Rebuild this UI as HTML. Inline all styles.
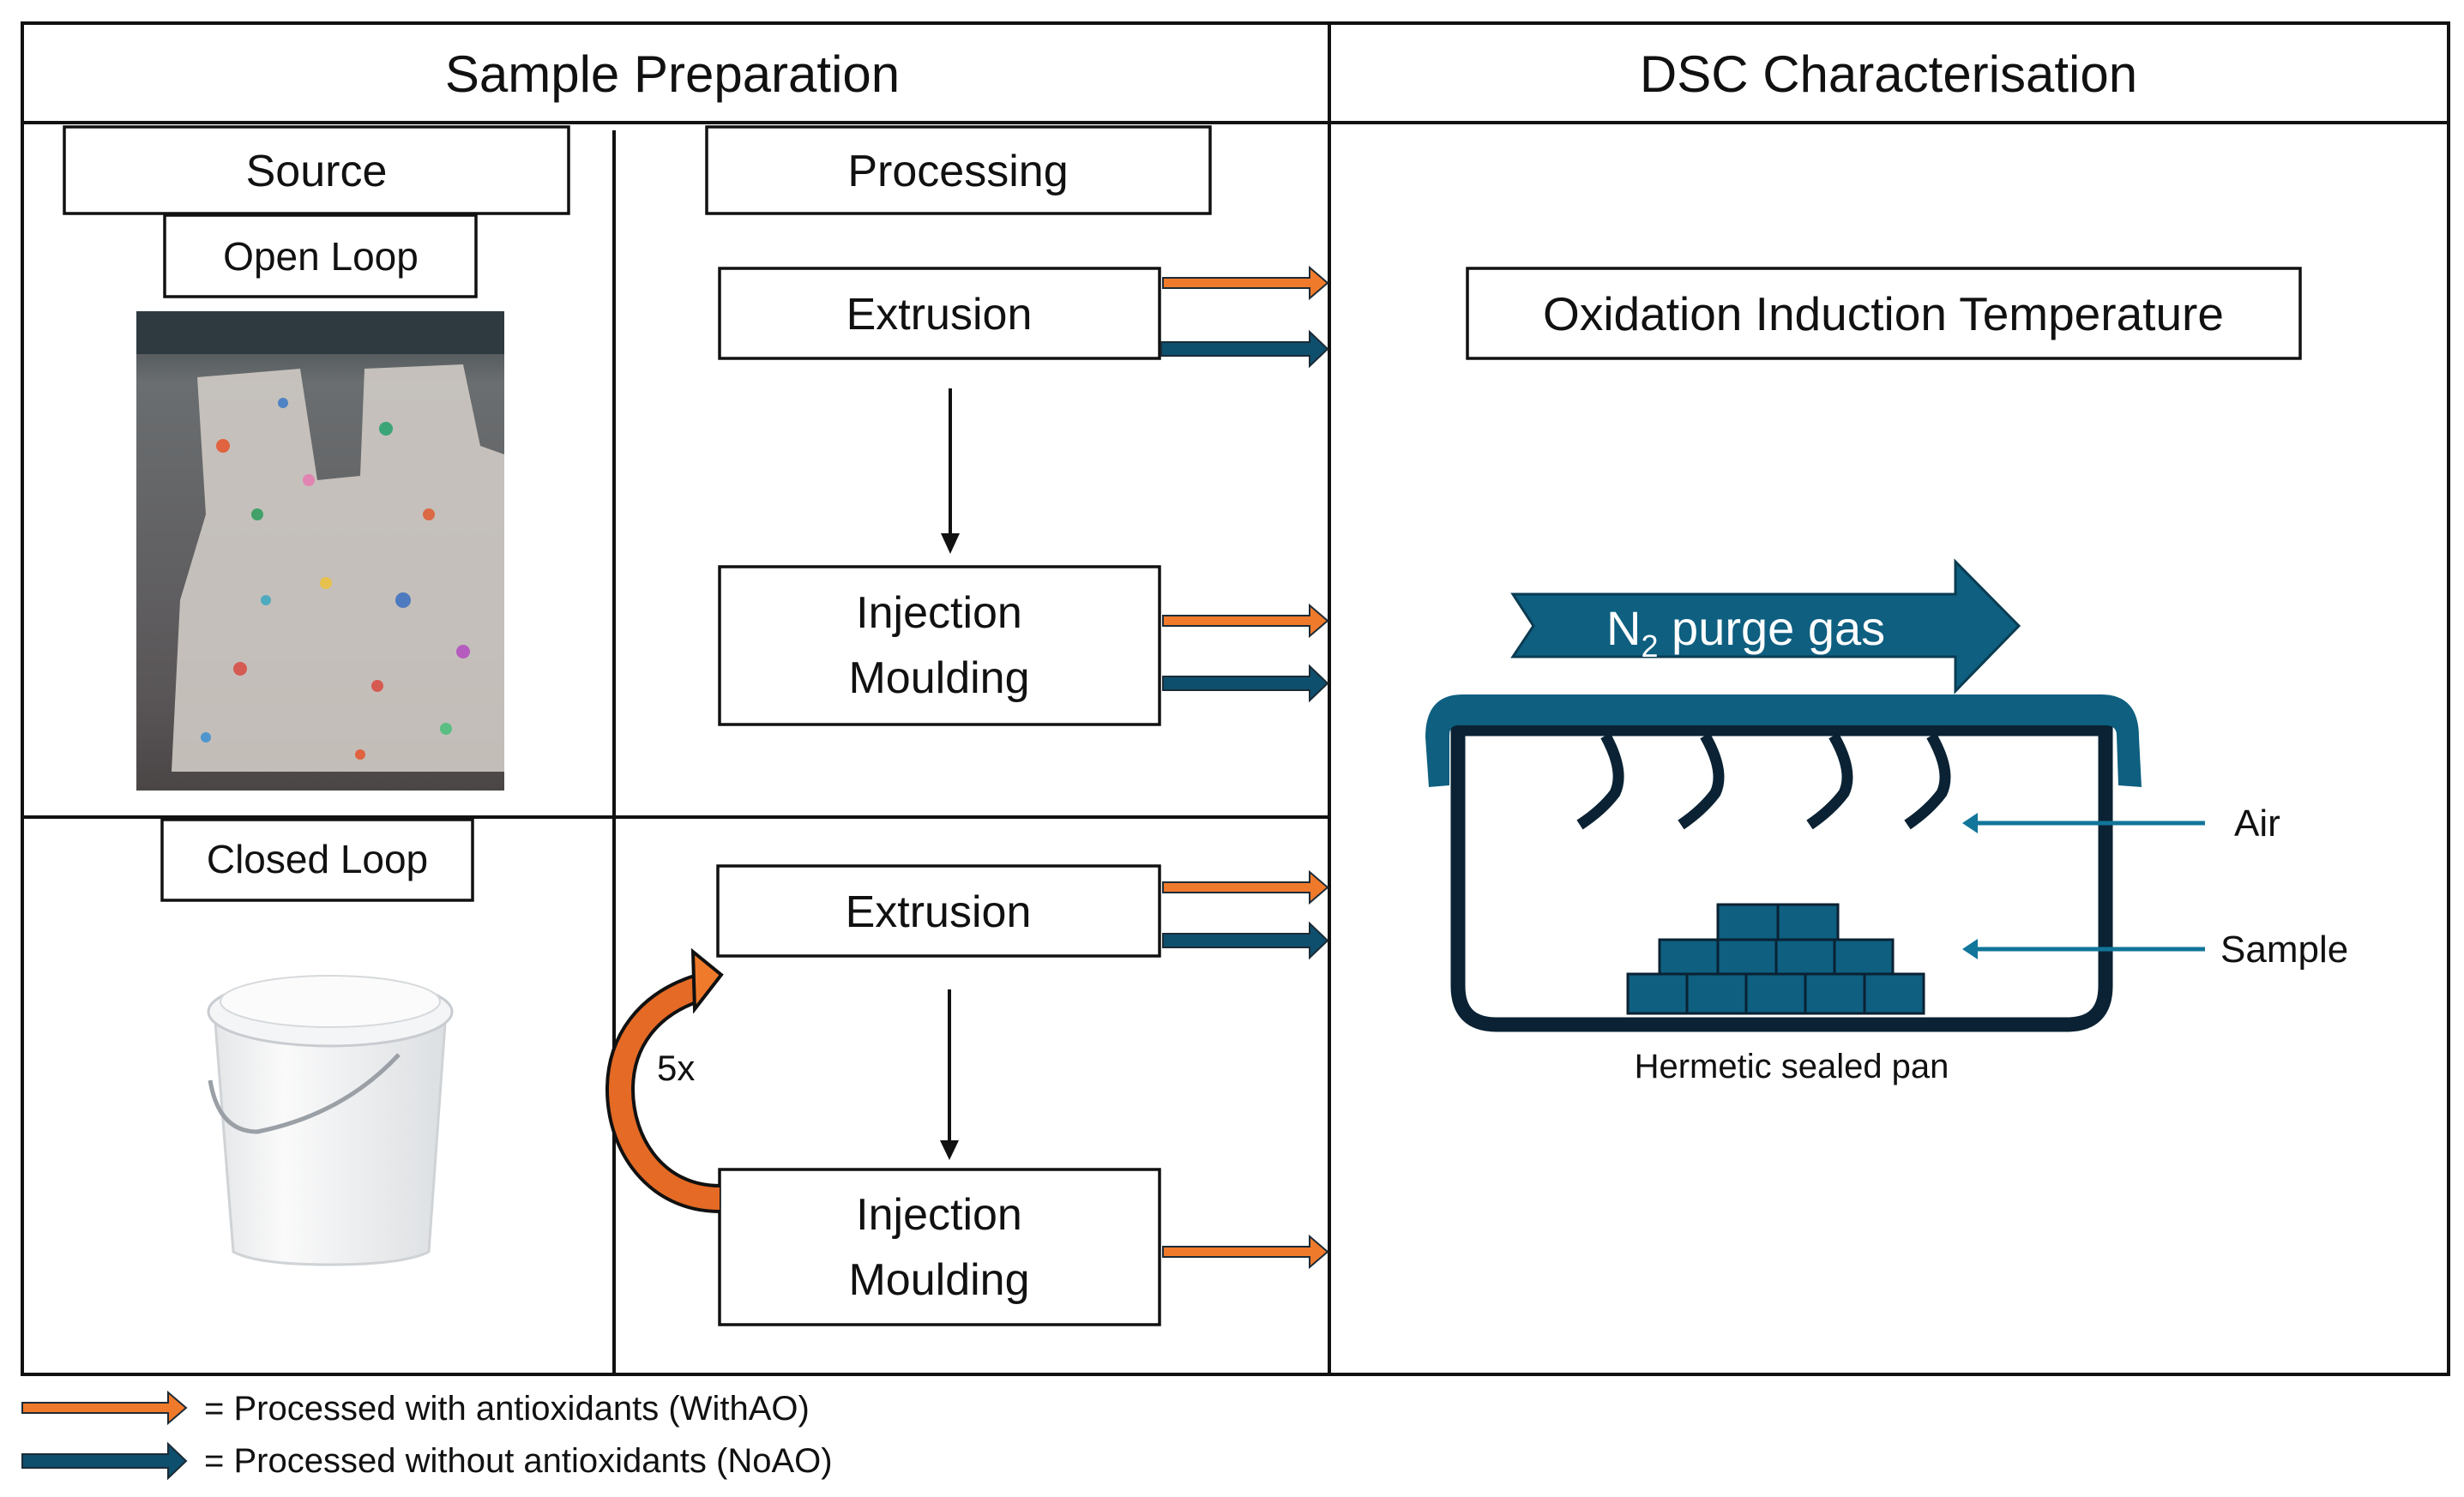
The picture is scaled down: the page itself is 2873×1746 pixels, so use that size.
<!DOCTYPE html>
<html><head><meta charset="utf-8"><style>
html,body{margin:0;padding:0;background:#fff;}
svg{display:block;}
text{font-family:"Liberation Sans",sans-serif;fill:#111;}
</style></head><body>
<svg width="2873" height="1746" viewBox="0 0 2873 1746" xmlns="http://www.w3.org/2000/svg">
<defs>
<linearGradient id="ph" x1="0" y1="0" x2="0" y2="1">
<stop offset="0" stop-color="#3d4448"/><stop offset="0.15" stop-color="#6a6e70"/><stop offset="0.8" stop-color="#5a5658"/><stop offset="1" stop-color="#4a4646"/></linearGradient>
<linearGradient id="bk" x1="0" y1="0" x2="1" y2="0">
<stop offset="0" stop-color="#e4e6e8"/><stop offset="0.3" stop-color="#fafafa"/><stop offset="1" stop-color="#dcdfe2"/></linearGradient>
</defs>
<g stroke="#111" stroke-width="4" fill="none">
<line x1="24" y1="27" x2="2857" y2="27"/>
<line x1="26" y1="27" x2="26" y2="1605"/>
<line x1="2855" y1="27" x2="2855" y2="1605"/>
<line x1="1550" y1="27" x2="1550" y2="1605"/>
<line x1="24" y1="143" x2="2857" y2="143"/>
<line x1="24" y1="1603" x2="2857" y2="1603"/>
<line x1="716" y1="152" x2="716" y2="1605"/>
<line x1="24" y1="953" x2="1550" y2="953"/>
</g>
<text x="784" y="107" font-size="60" text-anchor="middle">Sample Preparation</text>
<text x="2202" y="107" font-size="60" text-anchor="middle">DSC Characterisation</text>
<g stroke="#111" stroke-width="3.5" fill="#fff">
<rect x="75" y="148" width="588" height="101"/>
<rect x="192" y="251" width="363" height="95"/>
<rect x="824" y="148" width="587" height="101"/>
<rect x="839" y="313" width="513" height="105"/>
<rect x="839" y="661" width="513" height="184"/>
<rect x="189" y="956" width="362" height="94"/>
<rect x="837" y="1010" width="515" height="105"/>
<rect x="839" y="1364" width="513" height="181"/>
<rect x="1711" y="313" width="971" height="105"/>
</g>
<g font-size="52" text-anchor="middle">
<text x="369" y="217">Source</text>
<text x="1117" y="217">Processing</text>
<text x="1095" y="384">Extrusion</text>
<text x="1095" y="732">Injection</text>
<text x="1095" y="808">Moulding</text>
<text x="1094" y="1081">Extrusion</text>
<text x="1095" y="1434">Injection</text>
<text x="1095" y="1510">Moulding</text>
<text x="2196" y="385" font-size="55">Oxidation Induction Temperature</text>
</g>
<g font-size="46" text-anchor="middle">
<text x="374" y="315">Open Loop</text>
<text x="370" y="1018">Closed Loop</text>
</g>
<g stroke="#111" stroke-width="4"><line x1="1108" y1="453" x2="1108" y2="625"/><line x1="1107" y1="1154" x2="1107" y2="1332"/></g>
<polygon points="1097,622 1119,622 1108,646" fill="#111"/>
<polygon points="1096,1330 1118,1330 1107,1353" fill="#111"/>
<g stroke="#1c2b36" stroke-width="2">
<g fill="#f07a2c">
<path d="M1356,324 H1527 V312 L1548,330 L1527,348 V336 H1356 Z"/>
<path d="M1356,718 H1527 V706 L1548,724 L1527,742 V730 H1356 Z"/>
<path d="M1356,1029 H1527 V1017 L1548,1035 L1527,1053 V1041 H1356 Z"/>
<path d="M1356,1454 H1527 V1442 L1548,1460 L1527,1478 V1466 H1356 Z"/>
<path d="M26,1636 H196 V1624 L217,1642 L196,1660 V1648 H26 Z"/>
</g>
<g fill="#0e4f6e">
<path d="M1354,399 H1527 V387 L1548,407 L1527,427 V415 H1354 Z"/>
<path d="M1356,789 H1527 V777 L1548,797 L1527,817 V805 H1356 Z"/>
<path d="M1356,1089 H1527 V1077 L1548,1097 L1527,1117 V1105 H1356 Z"/>
<path d="M26,1696 H196 V1684 L217,1704 L196,1724 V1712 H26 Z"/>
</g>
</g>
<text x="238" y="1656" font-size="40">= Processed with antioxidants (WithAO)</text>
<text x="238" y="1717" font-size="40">= Processed without antioxidants (NoAO)</text>
<path d="M839,1398 C765,1398 722,1335 723,1268 C724,1215 755,1172 812,1153" fill="none" stroke="#111" stroke-width="34"/>
<path d="M839,1398 C765,1398 722,1335 723,1268 C724,1215 755,1172 812,1153" fill="none" stroke="#e46a25" stroke-width="26"/>
<polygon points="808,1110 841,1137 810,1177" fill="#f07a2c" stroke="#111" stroke-width="4"/>
<text x="766" y="1260" font-size="42">5x</text>
<rect x="159" y="363" width="429" height="559" fill="url(#ph)"/>
<rect x="159" y="363" width="429" height="50" fill="#2f3a40"/>
<path d="M230,440 L350,430 L370,560 L420,555 L425,430 L540,425 L560,520 L588,530 L588,900 L200,900 L210,700 L240,600 Z" fill="#cfcac4" opacity="0.9"/>
<g opacity="0.85">
<circle cx="260" cy="520" r="8" fill="#e6532a"/><circle cx="300" cy="600" r="7" fill="#2a9c5a"/><circle cx="330" cy="470" r="6" fill="#3b78c4"/>
<circle cx="450" cy="500" r="8" fill="#22a06b"/><circle cx="500" cy="600" r="7" fill="#e05a30"/><circle cx="470" cy="700" r="9" fill="#3a6fc0"/>
<circle cx="280" cy="780" r="8" fill="#d84a40"/><circle cx="380" cy="680" r="7" fill="#ecc23a"/><circle cx="540" cy="760" r="8" fill="#b34bbf"/>
<circle cx="240" cy="860" r="6" fill="#3a8fd0"/><circle cx="420" cy="880" r="6" fill="#e6532a"/><circle cx="520" cy="850" r="7" fill="#4abf7a"/>
<circle cx="360" cy="560" r="7" fill="#e67ab0"/><circle cx="310" cy="700" r="6" fill="#3aa7c0"/><circle cx="440" cy="800" r="7" fill="#d84a40"/>
</g>
<path d="M250,1180 L520,1180 L500,1460 Q470,1475 385,1475 Q300,1475 272,1460 Z" fill="url(#bk)" stroke="#cfd3d6" stroke-width="3"/>
<ellipse cx="385" cy="1180" rx="142" ry="40" fill="#f4f5f6" stroke="#c8ccd0" stroke-width="3"/>
<ellipse cx="385" cy="1168" rx="128" ry="30" fill="#fbfbfb" stroke="#d6d9dc" stroke-width="2"/>
<path d="M245,1260 Q255,1320 300,1320 Q400,1300 465,1230" fill="none" stroke="#9aa0a6" stroke-width="5"/>
<path d="M1764,693 H2280 V655 L2354,730 L2280,806 V766 H1764 L1788,730 Z" fill="#0e5f80" stroke="#0a3c52" stroke-width="3"/>
<text x="1873" y="752" font-size="56" style="fill:#fff">N<tspan font-size="36" dy="14">2</tspan><tspan dy="-14"> purge gas</tspan></text>
<path d="M1700,850 H2455 V1150 Q2455,1195 2410,1195 H1745 Q1700,1195 1700,1150 Z" fill="#fff" stroke="#0a2233" stroke-width="17"/>
<path d="M1666,918 L1662,860 Q1662,810 1705,810 H2450 Q2494,810 2494,860 L2497,918 L2470,916 L2468,858 Q2468,846 2455,846 H1700 Q1690,846 1690,858 L1690,916 Z" fill="#0e5f80"/>
<g fill="none" stroke="#0a2233" stroke-width="13">
<path d="M1872,858 Q1895,900 1883,925 Q1868,945 1842,962"/>
<path d="M1988,858 Q2012,900 2000,925 Q1985,945 1960,962"/>
<path d="M2138,858 Q2162,900 2150,925 Q2135,945 2110,962"/>
<path d="M2252,858 Q2276,900 2264,925 Q2249,945 2224,962"/>
</g>
<g fill="#0e5f80" stroke="#0a2233" stroke-width="3">
<rect x="2003" y="1055" width="70" height="41"/><rect x="2073" y="1055" width="70" height="41"/>
<rect x="1935" y="1096" width="68" height="40"/><rect x="2003" y="1096" width="68" height="40"/><rect x="2071" y="1096" width="68" height="40"/><rect x="2139" y="1096" width="68" height="40"/>
<rect x="1898" y="1136" width="69" height="46"/><rect x="1967" y="1136" width="69" height="46"/><rect x="2036" y="1136" width="69" height="46"/><rect x="2105" y="1136" width="69" height="46"/><rect x="2174" y="1136" width="69" height="46"/>
</g>
<g stroke="#12759a" stroke-width="5"><line x1="2300" y1="960" x2="2571" y2="960"/><line x1="2300" y1="1107" x2="2571" y2="1107"/></g>
<polygon points="2288,960 2306,948 2306,972" fill="#12759a"/>
<polygon points="2288,1107 2306,1095 2306,1119" fill="#12759a"/>
<text x="2605" y="975" font-size="44">Air</text>
<text x="2589" y="1122" font-size="44">Sample</text>
<text x="2089" y="1257" font-size="40" text-anchor="middle">Hermetic sealed pan</text>
</svg>
</body></html>
